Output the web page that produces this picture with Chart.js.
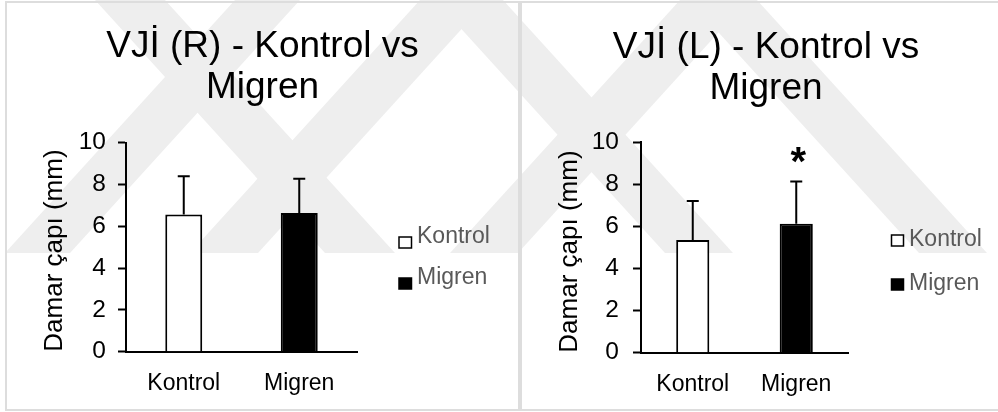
<!DOCTYPE html>
<html>
<head>
<meta charset="utf-8">
<script src="https://cdn.jsdelivr.net/npm/chart.js@4.4.1/dist/chart.umd.min.js"></script>
<style>
  html, body { margin: 0; padding: 0; background: #fff; }
  #page { position: relative; width: 998px; height: 412px; overflow: hidden; background: #fff; }
  #backdrop { position: absolute; left: 0; top: 0; }
  .frame { position: absolute; box-sizing: border-box; border: 2px solid #dddddd; }
  .holder { position: absolute; top: 0; height: 412px; }
</style>
</head>
<body>
<div id="page">
  <!-- faint diagonal backdrop stripes, cut flat at the bottom -->
  <svg id="backdrop" width="998" height="412" viewBox="0 0 998 412">
    <defs><clipPath id="cut"><rect x="0" y="0" width="998" height="253"/></clipPath></defs>
    <g clip-path="url(#cut)" fill="#eeeeee">
      <polygon points="95,0 165,0 395,253 325,253"/>
      <polygon points="235,0 300,0 70,253 5,253"/>
      <polygon points="420,0 488,0 258,253 190,253"/>
      <polygon points="435,0 503,0 733,253 665,253"/>
      <polygon points="680,0 748,0 518,253 450,253"/>
      <polygon points="689,0 757,0 987,253 919,253"/>
    </g>
  </svg>
  <div class="frame" style="left:5px; top:1px; width:515px; height:410px;"></div>
  <div class="frame" style="left:520px; top:1px; width:500px; height:410px;"></div>
  <div class="holder" style="left:0; width:520px;"><canvas id="vjiRight"></canvas></div>
  <div class="holder" style="left:520px; width:478px;"><canvas id="vjiLeft"></canvas></div>
</div>
<script>
// Groups on the x axis
const categories = ['Kontrol', 'Migren'];
// Value axis ticks (mm)
const yTicks = [0, 2, 4, 6, 8, 10];

// Right internal jugular vein diameter: mean and SD per group
const rightMeans = [6.57, 6.64];
const rightSD = [1.83, 1.64];
const rightMarks = ['', ''];

// Left internal jugular vein diameter: mean and SD per group
const leftMeans = [5.35, 6.12];
const leftSD = [1.85, 2.01];
const leftMarks = ['', '*'];

const groupFill = ['#ffffff', '#000000'];
const FONT = '"Liberation Sans", Arial, Helvetica, sans-serif';

// Upward-only error bars with caps, plus significance marks above them
const errorBarPlugin = {
  id: 'errorBars',
  afterDatasetsDraw(chart) {
    const { ctx } = chart;
    const yScale = chart.scales.y;
    chart.data.datasets.forEach((ds, di) => {
      const meta = chart.getDatasetMeta(di);
      ds.data.forEach((v, i) => {
        if (v === null) return;
        const bar = meta.data[i];
        const top = yScale.getPixelForValue(v + ds.errors[i]);
        const base = yScale.getPixelForValue(v);
        ctx.save();
        ctx.strokeStyle = '#000';
        ctx.lineWidth = 2;
        ctx.beginPath();
        ctx.moveTo(bar.x, base);
        ctx.lineTo(bar.x, top);
        ctx.moveTo(bar.x - 6, top);
        ctx.lineTo(bar.x + 6, top);
        ctx.stroke();
        const mark = ds.marks[i];
        if (mark) {
          ctx.fillStyle = '#000';
          ctx.font = 'bold 40px ' + FONT;
          ctx.textAlign = 'center';
          ctx.textBaseline = 'alphabetic';
          ctx.fillText(mark, bar.x + 2, top - 6.5);
        }
        ctx.restore();
      });
    });
  }
};

// Legend drawn beside the plot: small square followed by the group name
const sideLegendPlugin = {
  id: 'sideLegend',
  afterDraw(chart, args, opts) {
    const { ctx } = chart;
    chart.data.datasets.forEach((ds, i) => {
      const base = opts.baselines[i];
      const bottom = base + opts.boxDrop;
      ctx.save();
      ctx.fillStyle = ds.backgroundColor;
      ctx.fillRect(opts.boxX, bottom - opts.boxH, opts.boxW, opts.boxH);
      ctx.strokeStyle = '#000';
      ctx.lineWidth = 1.5;
      ctx.strokeRect(opts.boxX, bottom - opts.boxH, opts.boxW, opts.boxH);
      ctx.fillStyle = '#595959';
      ctx.font = '23px ' + FONT;
      ctx.textAlign = 'left';
      ctx.textBaseline = 'alphabetic';
      ctx.fillText(ds.label, opts.textX, base);
      ctx.restore();
    });
  }
};

function makeChart(canvasId, titleLines, means, sds, marks, geo) {
  const datasets = categories.map((cat, i) => ({
    label: cat,
    data: categories.map((_, j) => (j === i ? means[j] : null)),
    errors: sds,
    marks: marks,
    backgroundColor: groupFill[i],
    borderColor: '#000000',
    borderWidth: 2,
    grouped: false,
    barPercentage: 0.32,
    categoryPercentage: 1,
    yAxisID: 'y'
  }));

  return new Chart(document.getElementById(canvasId), {
    type: 'bar',
    data: { labels: categories, datasets },
    plugins: [errorBarPlugin, sideLegendPlugin],
    options: {
      responsive: true,
      maintainAspectRatio: false,
      animation: false,
      events: [],
      layout: { padding: { left: geo.padLeft, right: 0, top: 0, bottom: 0 } },
      plugins: {
        legend: { display: false },
        tooltip: { enabled: false },
        title: {
          display: true,
          text: titleLines,
          color: '#000',
          font: { family: FONT, size: 37, weight: 'normal', lineHeight: 41.5 / 37 },
          padding: { top: geo.titleTop, bottom: geo.titleBottom }
        },
        sideLegend: geo.legend
      },
      scales: {
        x: {
          grid: { display: false },
          border: { display: true, color: '#000', width: 2 },
          ticks: { color: '#000', font: { family: FONT, size: 23 }, padding: 10 },
          afterFit: s => { s.height = geo.xAxisHeight; }
        },
        y: {
          min: 0,
          max: 10,
          afterBuildTicks: s => { s.ticks = yTicks.map(v => ({ value: v })); },
          grid: { display: true, drawOnChartArea: false, drawTicks: true, tickLength: 8, tickColor: '#000', tickWidth: 2 },
          border: { display: true, color: '#000', width: 2 },
          ticks: { color: '#000', font: { family: FONT, size: 24.5 }, padding: geo.tickPad },
          title: {
            display: true,
            text: 'Damar çapı (mm)',
            color: '#000',
            align: 'start',
            font: { family: FONT, size: 26 },
            padding: { top: geo.yTitlePad, bottom: 0 }
          },
          afterFit: s => { s.width = geo.yAxisWidth; }
        },
        gutter: {
          axis: 'y',
          type: 'linear',
          position: 'right',
          display: true,
          grid: { display: false },
          border: { display: false },
          ticks: { display: false },
          afterFit: s => { s.width = geo.gutter; }
        }
      }
    }
  });
}

makeChart('vjiRight', ['VJİ (R) - Kontrol vs', 'Migren'], rightMeans, rightSD, rightMarks, {
  padLeft: 5, yAxisWidth: 121, gutter: 163, xAxisHeight: 60.3,
  titleTop: 26, titleBottom: 33.7, tickPad: 12, yTitlePad: 34.5,
  legend: { boxX: 399, textX: 417, boxW: 12.5, boxH: 11, boxDrop: 5, baselines: [243, 284] }
});

makeChart('vjiLeft', ['VJİ (L) - Kontrol vs', 'Migren'], leftMeans, leftSD, leftMarks, {
  padLeft: 14, yAxisWidth: 107, gutter: 150, xAxisHeight: 59.3,
  titleTop: 27, titleBottom: 32, tickPad: 14, yTitlePad: 20,
  legend: { boxX: 371.5, textX: 389, boxW: 12, boxH: 11, boxDrop: 0, baselines: [246, 290] }
});
</script>
</body>
</html>
